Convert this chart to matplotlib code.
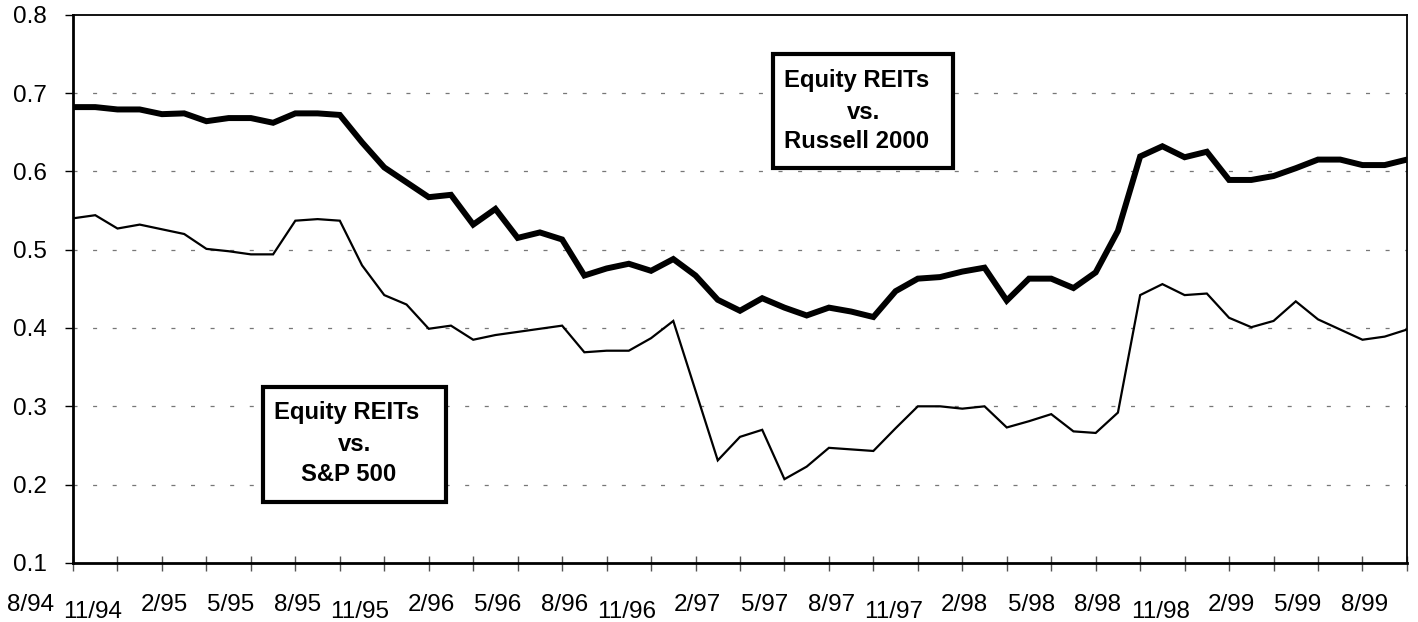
import numpy as np
import matplotlib
matplotlib.use("Agg")
import matplotlib.pyplot as plt
from matplotlib.patches import Rectangle
from matplotlib.transforms import blended_transform_factory

plt.rcParams["font.family"] = ["Liberation Sans", "DejaVu Sans"]
plt.rcParams["lines.scale_dashes"] = False

# monthly correlation values, 61 points
russell = [0.682, 0.682, 0.679, 0.679, 0.673, 0.674, 0.664, 0.668, 0.668, 0.662,
           0.674, 0.674, 0.672, 0.637, 0.605, 0.586, 0.567, 0.570, 0.532, 0.552,
           0.515, 0.522, 0.513, 0.467, 0.476, 0.482, 0.473, 0.488, 0.467, 0.436,
           0.422, 0.438, 0.426, 0.416, 0.426, 0.421, 0.414, 0.447, 0.463, 0.465,
           0.472, 0.477, 0.435, 0.463, 0.463, 0.451, 0.471, 0.524, 0.619, 0.632,
           0.618, 0.625, 0.589, 0.589, 0.594, 0.604, 0.615, 0.615, 0.608, 0.608, 0.615]
sp500 = [0.540, 0.544, 0.527, 0.532, 0.526, 0.520, 0.501, 0.498, 0.494, 0.494,
         0.537, 0.539, 0.537, 0.480, 0.442, 0.430, 0.399, 0.403, 0.385, 0.391,
         0.395, 0.399, 0.403, 0.369, 0.371, 0.371, 0.387, 0.409, 0.320, 0.231,
         0.261, 0.270, 0.207, 0.223, 0.247, 0.245, 0.243, 0.272, 0.300, 0.300,
         0.297, 0.300, 0.273, 0.281, 0.290, 0.268, 0.266, 0.292, 0.442, 0.456,
         0.442, 0.444, 0.413, 0.401, 0.409, 0.434, 0.411, 0.398, 0.385, 0.389, 0.398]
date_labels = ["8/94", "11/94", "2/95", "5/95", "8/95", "11/95", "2/96", "5/96",
               "8/96", "11/96", "2/97", "5/97", "8/97", "11/97", "2/98", "5/98",
               "8/98", "11/98", "2/99", "5/99", "8/99"]
y_ticks = [0.1, 0.2, 0.3, 0.4, 0.5, 0.6, 0.7, 0.8]

x = np.arange(len(russell))

fig = plt.figure(figsize=(14.18, 6.22), dpi=100)
ax = fig.add_axes([0.0515, 0.0949, 0.9407, 0.8815])

ax.plot(x, sp500, color="black", lw=1.6, solid_joinstyle="miter", zorder=3)
ax.plot(x, russell, color="black", lw=4.3, solid_joinstyle="miter", zorder=3)

ax.set_xlim(0, len(x) - 1)
ax.set_ylim(0.1, 0.8)
ax.set_yticks(y_ticks)
ax.set_yticklabels([f"{v:.1f}" for v in y_ticks], fontsize=17.5)
ax.tick_params(axis="y", direction="out", length=5.8, width=1, pad=13, colors="black")
ax.set_xticks(x[::2])
ax.set_xticklabels([])
ax.tick_params(axis="x", direction="inout", length=10.8, width=1, color="#555555")

for yv in y_ticks[1:-1]:
    ax.axhline(yv, color="#777777", lw=0.9, dashes=(2.9, 11.2), zorder=1)

for s in ax.spines.values():
    s.set_linewidth(1.3)
ax.spines["left"].set_linewidth(2)
ax.spines["bottom"].set_linewidth(2)

# staggered date labels, one every three months
trans = blended_transform_factory(ax.transData, ax.transAxes)
for k, lab in enumerate(date_labels):
    pos = 3 * k - 2 + 0.1
    low = lab.startswith("11/")
    ax.text(pos - (0.2 if low else 0), -0.089 if low else -0.077, lab,
            transform=trans, ha="center", va="center", fontsize=17.5)

# annotation boxes
box_font = dict(fontsize=17.2, fontweight="bold", ha="center", va="center", zorder=5)
ax.add_patch(Rectangle((0.5247, 0.7204), 0.135, 0.2079, transform=ax.transAxes,
                       fill=True, facecolor="white", edgecolor="black", lw=3, zorder=4))
ax.text(0.5877, 0.8796, "Equity REITs", transform=ax.transAxes, **box_font)
ax.text(0.5930, 0.8207, "vs.", transform=ax.transAxes, **box_font)
ax.text(0.5877, 0.7678, "Russell 2000", transform=ax.transAxes, **box_font)

ax.add_patch(Rectangle((0.1424, 0.1113), 0.1372, 0.2097, transform=ax.transAxes,
                       fill=True, facecolor="white", edgecolor="black", lw=3, zorder=4))
ax.text(0.2054, 0.2736, "Equity REITs", transform=ax.transAxes, **box_font)
ax.text(0.2114, 0.2152, "vs.", transform=ax.transAxes, **box_font)
ax.text(0.2069, 0.1605, "S&P 500", transform=ax.transAxes, **box_font)

fig.savefig("out.png", dpi=100)
